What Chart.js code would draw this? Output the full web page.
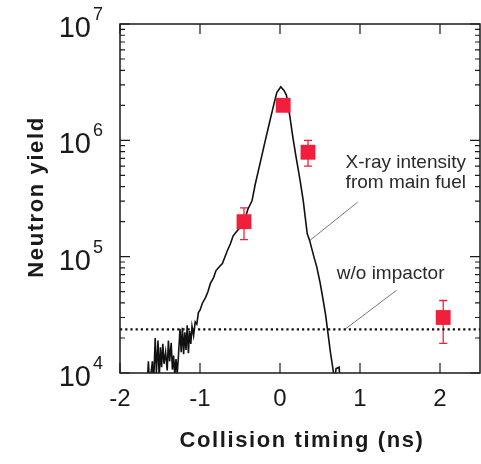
<!DOCTYPE html>
<html>
<head>
<meta charset="utf-8">
<script src="https://cdn.jsdelivr.net/npm/chart.js@4.4.0/dist/chart.umd.min.js"></script>
<style>
  html, body { margin: 0; padding: 0; background: #fff; }
  #wrap { width: 481px; height: 464px; }
</style>
</head>
<body>
<div id="wrap"><canvas id="c" width="481" height="464"></canvas></div>
<script>
// x-ray trace from main fuel (ns, yield)
const traceX = [-1.66, -1.645, -1.63, -1.595, -1.58, -1.56, -1.545, -1.525, -1.51, -1.495,
  -1.48, -1.465, -1.45, -1.43, -1.41, -1.395, -1.38, -1.36, -1.345, -1.33,
  -1.315, -1.3, -1.285, -1.27, -1.25, -1.235, -1.22, -1.205, -1.19, -1.175,
  -1.16, -1.145, -1.13, -1.115, -1.1, -1.08, -1.06, -1.04, -1.02, -1.0,
  -0.97, -0.93, -0.9, -0.87, -0.83, -0.8, -0.75, -0.72, -0.66, -0.62,
  -0.585, -0.55, -0.5, -0.45, -0.4, -0.35, -0.31, -0.25, -0.19, -0.125,
  -0.08, -0.04, 0.01, 0.05, 0.08, 0.12, 0.16, 0.2, 0.25, 0.29,
  0.34, 0.37, 0.42, 0.46, 0.5, 0.54, 0.57, 0.6, 0.63, 0.665,
  0.68, 0.7, 0.74, 0.75];
const traceY = [7900, 12600, 7900, 12600, 7900, 20000, 10000, 19000, 8900, 16600,
  11200, 17800, 12000, 15100, 10500, 19000, 12600, 18200, 10700, 14100,
  9500, 13200, 9800, 13800, 24000, 15100, 24500, 14500, 22400, 15800,
  25700, 14800, 22900, 17800, 25100, 20900, 27500, 26300, 33100, 34700,
  39800, 44700, 50100, 58900, 66100, 75900, 83200, 87100, 112000, 129000,
  151000, 162000, 178000, 200000, 257000, 302000, 417000, 631000, 955000, 1480000,
  2000000, 2570000, 2880000, 2690000, 2450000, 1660000, 1070000, 724000, 457000, 305000,
  158000, 138000, 102000, 81300, 60300, 42200, 31600, 21900, 15100, 10500,
  7900, 10900, 11200, 7900];

// measured neutron yield with error bars
const shotX = [-0.45, 0.04, 0.35, 2.04];
const shotY = [200000, 2000000, 790000, 30000];
const shotLow = [140000, 1900000, 600000, 18000];
const shotHigh = [263000, 2100000, 1000000, 42000];

// yield without impactor
const noImpactorX = [-2, 2.5];
const noImpactorY = [23700, 23700];

// annotation leader lines
const leaderXray = [{x: 0.97, y: 294000}, {x: 0.374, y: 138000}];
const leaderNoImp = [{x: 1.457, y: 51400}, {x: 0.81, y: 23700}];

const xTicks = [-2, -1, 0, 1, 2];
const xTickLabels = ['-2', '-1', '0', '1', '2'];
const yMajor = [1e4, 1e5, 1e6, 1e7];
const yExp = ['4', '5', '6', '7'];
const yMinorMult = [2, 3, 4, 5, 6, 7, 8, 9];

const FONT = '"Liberation Sans", Arial, Helvetica, sans-serif';
const RED = '#f21f3c';

const toPts = (xs, ys) => xs.map((x, i) => ({x: x, y: ys[i]}));

const decor = {
  id: 'decor',
  beforeDatasetsDraw(chart) {
    const {ctx, scales: {x, y}} = chart;
    ctx.save();
    ctx.strokeStyle = RED;
    ctx.lineWidth = 1.3;
    shotX.forEach((sx, i) => {
      const px = x.getPixelForValue(sx);
      const top = y.getPixelForValue(shotHigh[i]);
      const bot = y.getPixelForValue(shotLow[i]);
      ctx.beginPath();
      ctx.moveTo(px, top); ctx.lineTo(px, bot);
      ctx.moveTo(px - 4, top); ctx.lineTo(px + 4, top);
      ctx.moveTo(px - 4, bot); ctx.lineTo(px + 4, bot);
      ctx.stroke();
    });
    ctx.restore();
  },
  afterDraw(chart) {
    const {ctx, chartArea: a, scales: {x, y}} = chart;
    ctx.save();
    ctx.strokeStyle = '#1a1a1a';
    ctx.lineWidth = 1.5;
    ctx.strokeRect(a.left, a.top, a.right - a.left, a.bottom - a.top);

    ctx.lineWidth = 1.2;
    ctx.beginPath();
    xTicks.forEach(v => {
      const px = x.getPixelForValue(v);
      ctx.moveTo(px, a.bottom); ctx.lineTo(px, a.bottom - 10);
      ctx.moveTo(px, a.top); ctx.lineTo(px, a.top + 10);
    });
    yMajor.forEach((v, i) => {
      const py = y.getPixelForValue(v);
      ctx.moveTo(a.left, py); ctx.lineTo(a.left + 10, py);
      ctx.moveTo(a.right, py); ctx.lineTo(a.right - 10, py);
      if (i < yMajor.length - 1) {
        yMinorMult.forEach(m => {
          const pm = y.getPixelForValue(v * m);
          ctx.moveTo(a.left, pm); ctx.lineTo(a.left + 5, pm);
          ctx.moveTo(a.right, pm); ctx.lineTo(a.right - 5, pm);
        });
      }
    });
    ctx.stroke();

    ctx.fillStyle = '#1a1a1a';
    ctx.font = '24px ' + FONT;
    ctx.textAlign = 'center';
    ctx.textBaseline = 'top';
    xTicks.forEach((v, i) => {
      ctx.fillText(xTickLabels[i], x.getPixelForValue(v), a.bottom + 14);
    });

    yMajor.forEach((v, i) => {
      const py = y.getPixelForValue(v);
      ctx.font = '29px ' + FONT;
      ctx.textAlign = 'right';
      ctx.textBaseline = 'middle';
      ctx.fillText('10', 91, py + 5);
      ctx.font = '18px ' + FONT;
      ctx.textAlign = 'left';
      ctx.fillText(yExp[i], 93, py - 9);
    });

    ctx.font = 'bold 22px ' + FONT;
    ctx.letterSpacing = '1.6px';
    ctx.textAlign = 'center';
    ctx.textBaseline = 'middle';
    ctx.fillText('Collision timing (ns)', 302, 441);
    ctx.save();
    ctx.translate(37, 197);
    ctx.rotate(-Math.PI / 2);
    ctx.fillText('Neutron yield', 0, 0);
    ctx.restore();
    ctx.letterSpacing = '0px';

    ctx.fillStyle = '#2a2a2a';
    ctx.font = '19px ' + FONT;
    ctx.textAlign = 'left';
    ctx.fillText('X-ray intensity', x.getPixelForValue(0.82), y.getPixelForValue(640000));
    ctx.fillText('from main fuel', x.getPixelForValue(0.82), y.getPixelForValue(430000));
    ctx.fillText('w/o impactor', x.getPixelForValue(0.71), y.getPixelForValue(71000));
    ctx.restore();
  }
};

new Chart(document.getElementById('c').getContext('2d'), {
  type: 'line',
  data: {
    datasets: [
      {
        label: 'Neutron yield',
        data: toPts(shotX, shotY),
        showLine: false,
        pointStyle: 'rect',
        pointRadius: 10.5,
        backgroundColor: RED,
        borderWidth: 0
      },
      {
        label: 'X-ray intensity',
        data: toPts(traceX, traceY),
        borderColor: '#111',
        borderWidth: 1.6,
        pointRadius: 0,
        tension: 0
      },
      {
        label: 'w/o impactor',
        data: toPts(noImpactorX, noImpactorY),
        borderColor: '#111',
        borderWidth: 2.2,
        borderDash: [2.2, 3],
        pointRadius: 0
      },
      {
        label: 'leader1',
        data: leaderXray,
        borderColor: '#777',
        borderWidth: 1,
        pointRadius: 0
      },
      {
        label: 'leader2',
        data: leaderNoImp,
        borderColor: '#777',
        borderWidth: 1,
        pointRadius: 0
      }
    ]
  },
  options: {
    responsive: false,
    animation: false,
    layout: {autoPadding: false, padding: {left: 120, top: 24, right: 1, bottom: 91}},
    plugins: {legend: {display: false}, tooltip: {enabled: false}},
    scales: {
      x: {type: 'linear', min: -2, max: 2.5, display: false},
      y: {type: 'logarithmic', min: 1e4, max: 1e7, display: false}
    }
  },
  plugins: [decor]
});
</script>
</body>
</html>
